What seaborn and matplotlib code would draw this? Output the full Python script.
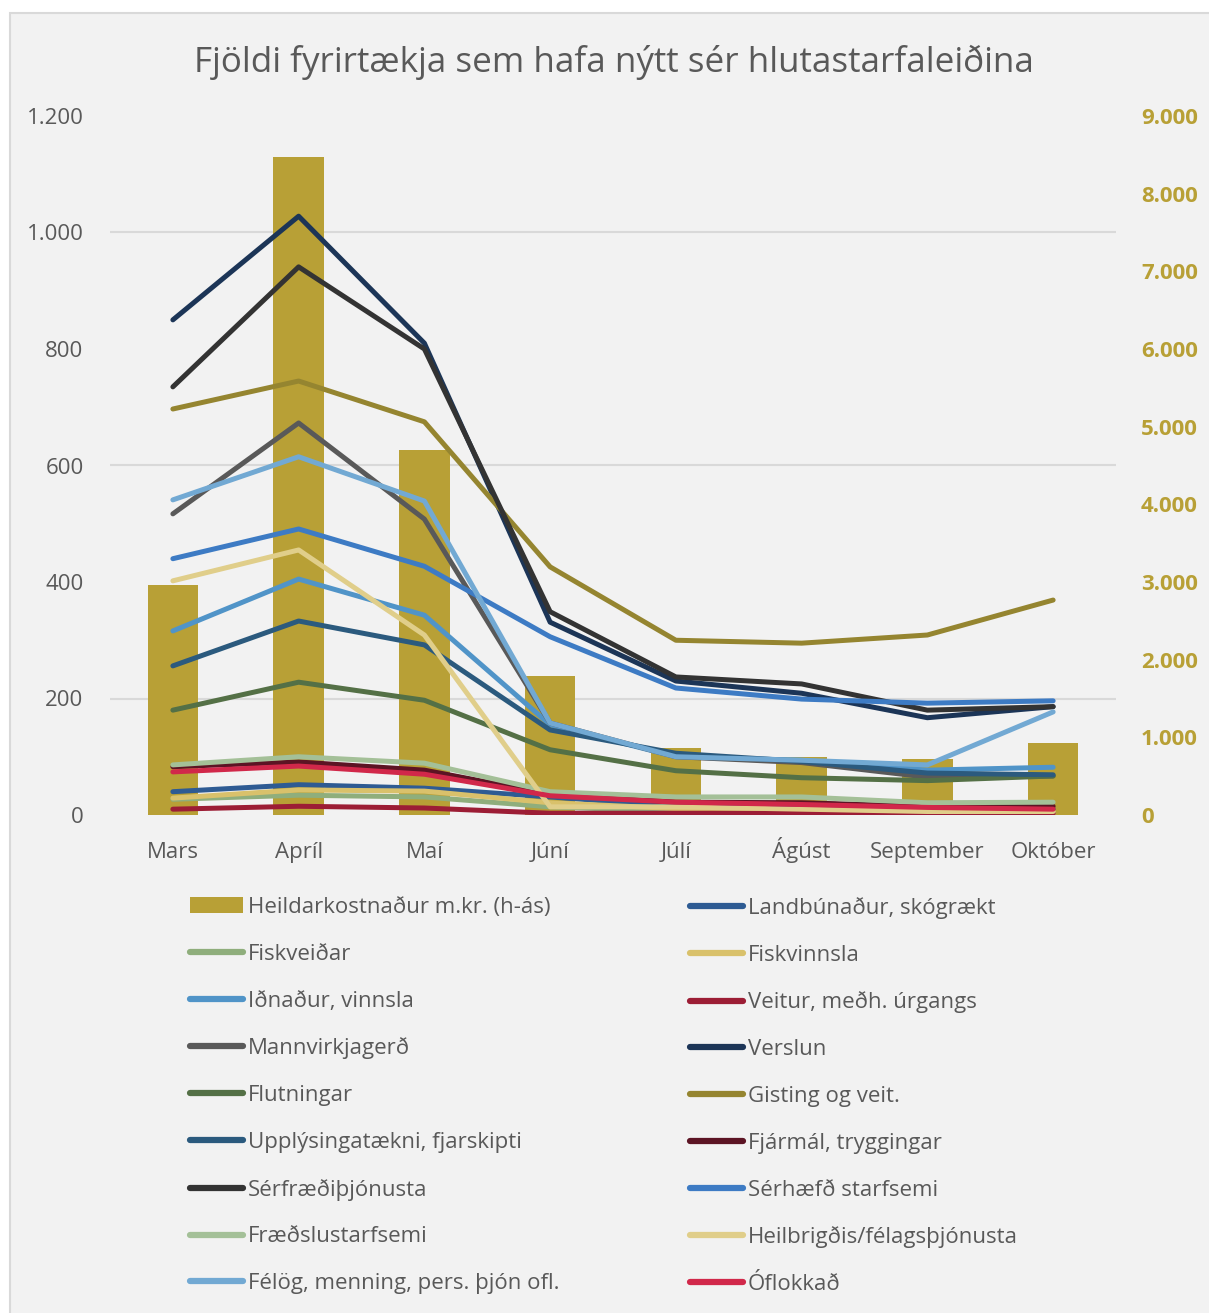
import numpy as np
import pandas as pd
import matplotlib.pyplot as plt
import seaborn as sns
from matplotlib.lines import Line2D
from matplotlib.patches import Patch, Rectangle
from matplotlib.ticker import FuncFormatter

# Months and total cost (right axis, bars)
months = ["Mars", "Apríl", "Maí", "Júní", "Júlí", "Ágúst", "September", "Október"]
heildarkostnadur = [2960, 8470, 4700, 1790, 860, 750, 720, 930]

# Number of firms per sector (left axis, lines)
landbunadur = [40, 52, 46, 31, 15, 12, 10, 10]
fiskveidar = [27, 34, 31, 14, 6, 5, 4, 4]
fiskvinnsla = [29, 43, 41, 21, 11, 9, 6, 5]
idnadur = [316, 405, 343, 155, 100, 94, 77, 82]
veitur = [10, 15, 12, 3, 3, 3, 3, 3]
mannvirkjagerd = [517, 673, 508, 158, 100, 90, 65, 67]
verslun = [850, 1028, 810, 331, 230, 209, 167, 186]
flutningar = [180, 228, 197, 112, 76, 64, 59, 67]
gisting = [697, 745, 675, 426, 300, 295, 309, 369]
upplysingataekni = [256, 333, 292, 146, 106, 92, 72, 69]
fjarmal = [83, 91, 77, 36, 22, 21, 15, 15]
serfraedi = [735, 941, 800, 349, 237, 225, 180, 186]
serhaefd = [440, 491, 427, 306, 218, 199, 192, 196]
fraedsla = [86, 100, 89, 40, 31, 31, 21, 22]
heilbrigdis = [402, 455, 309, 14, 14, 10, 6, 6]
felog = [541, 615, 539, 158, 100, 94, 86, 177]
oflokkad = [74, 84, 70, 33, 22, 18, 13, 10]

bar_label = "Heildarkostnaður m.kr. (h-ás)"
series = [
    ("Landbúnaður, skógrækt", landbunadur),
    ("Fiskveiðar", fiskveidar),
    ("Fiskvinnsla", fiskvinnsla),
    ("Iðnaður, vinnsla", idnadur),
    ("Veitur, meðh. úrgangs", veitur),
    ("Mannvirkjagerð", mannvirkjagerd),
    ("Verslun", verslun),
    ("Flutningar", flutningar),
    ("Gisting og veit.", gisting),
    ("Upplýsingatækni, fjarskipti", upplysingataekni),
    ("Fjármál, tryggingar", fjarmal),
    ("Sérfræðiþjónusta", serfraedi),
    ("Sérhæfð starfsemi", serhaefd),
    ("Fræðslustarfsemi", fraedsla),
    ("Heilbrigðis/félagsþjónusta", heilbrigdis),
    ("Félög, menning, pers. þjón ofl.", felog),
    ("Óflokkað", oflokkad),
]

# colours
bar_color = "#b8a036"
colors = {
    "Landbúnaður, skógrækt": "#2e5b93",
    "Fiskveiðar": "#8fae7c",
    "Fiskvinnsla": "#d9c16b",
    "Iðnaður, vinnsla": "#5094c8",
    "Veitur, meðh. úrgangs": "#9c1d35",
    "Mannvirkjagerð": "#595959",
    "Verslun": "#1c3557",
    "Flutningar": "#547046",
    "Gisting og veit.": "#958530",
    "Upplýsingatækni, fjarskipti": "#2b5a7e",
    "Fjármál, tryggingar": "#5c1424",
    "Sérfræðiþjónusta": "#333333",
    "Sérhæfð starfsemi": "#3d7bc4",
    "Fræðslustarfsemi": "#a4c098",
    "Heilbrigðis/félagsþjónusta": "#e0ce8a",
    "Félög, menning, pers. þjón ofl.": "#72a9d3",
    "Óflokkað": "#d1284a",
}

sns.set_style("white")
plt.rcParams["font.family"] = ["Open Sans", "DejaVu Sans"]
text_col = "#595959"
grid_col = "#d9d9d9"

# long-form table for the lines
rows = []
for name, vals in series:
    for i, v in enumerate(vals):
        rows.append({"pos": i, "value": v, "series": name})
df_lines = pd.DataFrame(rows)
order = [s[0] for s in series]

W, H = 1209, 1313
fig = plt.figure(figsize=(W / 100, H / 100), dpi=100)
fig.patch.set_facecolor("white")
fig.patches.append(Rectangle((10 / W, -0.01), 1.1, 1 - 13 / H + 0.01,
                             transform=fig.transFigure, facecolor="#f2f2f2",
                             edgecolor=grid_col, lw=1.5, zorder=-10))

ax_bar = fig.add_axes([110 / W, 1 - 815 / H, (1116 - 110) / W, (815 - 116) / H])
ax_bar.set_facecolor("none")
ax_line = ax_bar.twinx()

# bars behind (primary axes), shown with right-hand scale
sns.barplot(x=months, y=heildarkostnadur, ax=ax_bar, color=bar_color,
            width=0.4, saturation=1, edgecolor="none")
ax_bar.set_ylim(0, 9000)
ax_bar.set_yticks(np.arange(0, 9001, 1000))
ax_bar.yaxis.set_major_formatter(FuncFormatter(lambda v, p: f"{v:,.0f}".replace(",", ".")))
# gridlines match the left scale (every 200 = every 1500 on right)
ax_bar.set_yticks(np.arange(0, 9001, 1500), minor=True)
ax_bar.grid(which="minor", axis="y", color=grid_col, lw=1.5)
ax_bar.grid(which="major", visible=False)
ax_bar.set_axisbelow(True)
ax_bar.yaxis.tick_right()
ax_bar.tick_params(axis="y", which="both", length=0, pad=18, labelsize=16,
                   labelcolor=bar_color)
for lab in ax_bar.get_yticklabels():
    lab.set_fontweight("bold")
ax_bar.tick_params(axis="x", length=0, pad=31, labelsize=16, labelcolor=text_col)
for lab in ax_bar.get_xticklabels():
    lab.set_va("baseline")
ax_bar.set_xlabel("")
ax_bar.set_ylabel("")

# lines on top, shown with left-hand scale
sns.lineplot(data=df_lines, x="pos", y="value", hue="series", hue_order=order,
             palette=colors, ax=ax_line, lw=3.6, legend=False, estimator=None,
             sort=False, solid_capstyle="round", solid_joinstyle="round")
ax_line.set_ylim(0, 1200)
ax_line.set_yticks(np.arange(0, 1201, 200))
ax_line.yaxis.set_major_formatter(FuncFormatter(lambda v, p: f"{v:,.0f}".replace(",", ".")))
ax_line.yaxis.tick_left()
ax_line.tick_params(axis="y", length=0, pad=19, labelsize=16, labelcolor=text_col)
ax_line.set_ylabel("")
ax_line.set_xlabel("")
ax_bar.set_xlim(-0.5, len(months) - 0.5)

for a in (ax_bar, ax_line):
    for sp in a.spines.values():
        sp.set_visible(False)

fig.text(614 / W, 1 - 62 / H, "Fjöldi fyrirtækja sem hafa nýtt sér hlutastarfaleiðina",
         ha="center", va="center", fontsize=25.2, color=text_col)

# legend: two columns, row-wise order as in the original
handles = [Patch(facecolor=bar_color, edgecolor="none", label=bar_label)]
for name, _ in series:
    handles.append(Line2D([0], [0], color=colors[name], lw=4.5,
                          solid_capstyle="round", label=name))
col1 = handles[0::2]
col2 = handles[1::2]
leg_kw = dict(loc="upper left", frameon=False, fontsize=16, handlelength=2.4,
              handletextpad=0.2, labelspacing=1.16, borderpad=0, borderaxespad=0,
              labelcolor=text_col)
fig.legend(handles=col1, bbox_to_anchor=(190 / W, 1 - 897 / H), **leg_kw)
fig.legend(handles=col2, bbox_to_anchor=(690 / W, 1 - 897 / H), **leg_kw)

fig.savefig("out.png", dpi=100, facecolor=fig.get_facecolor())
